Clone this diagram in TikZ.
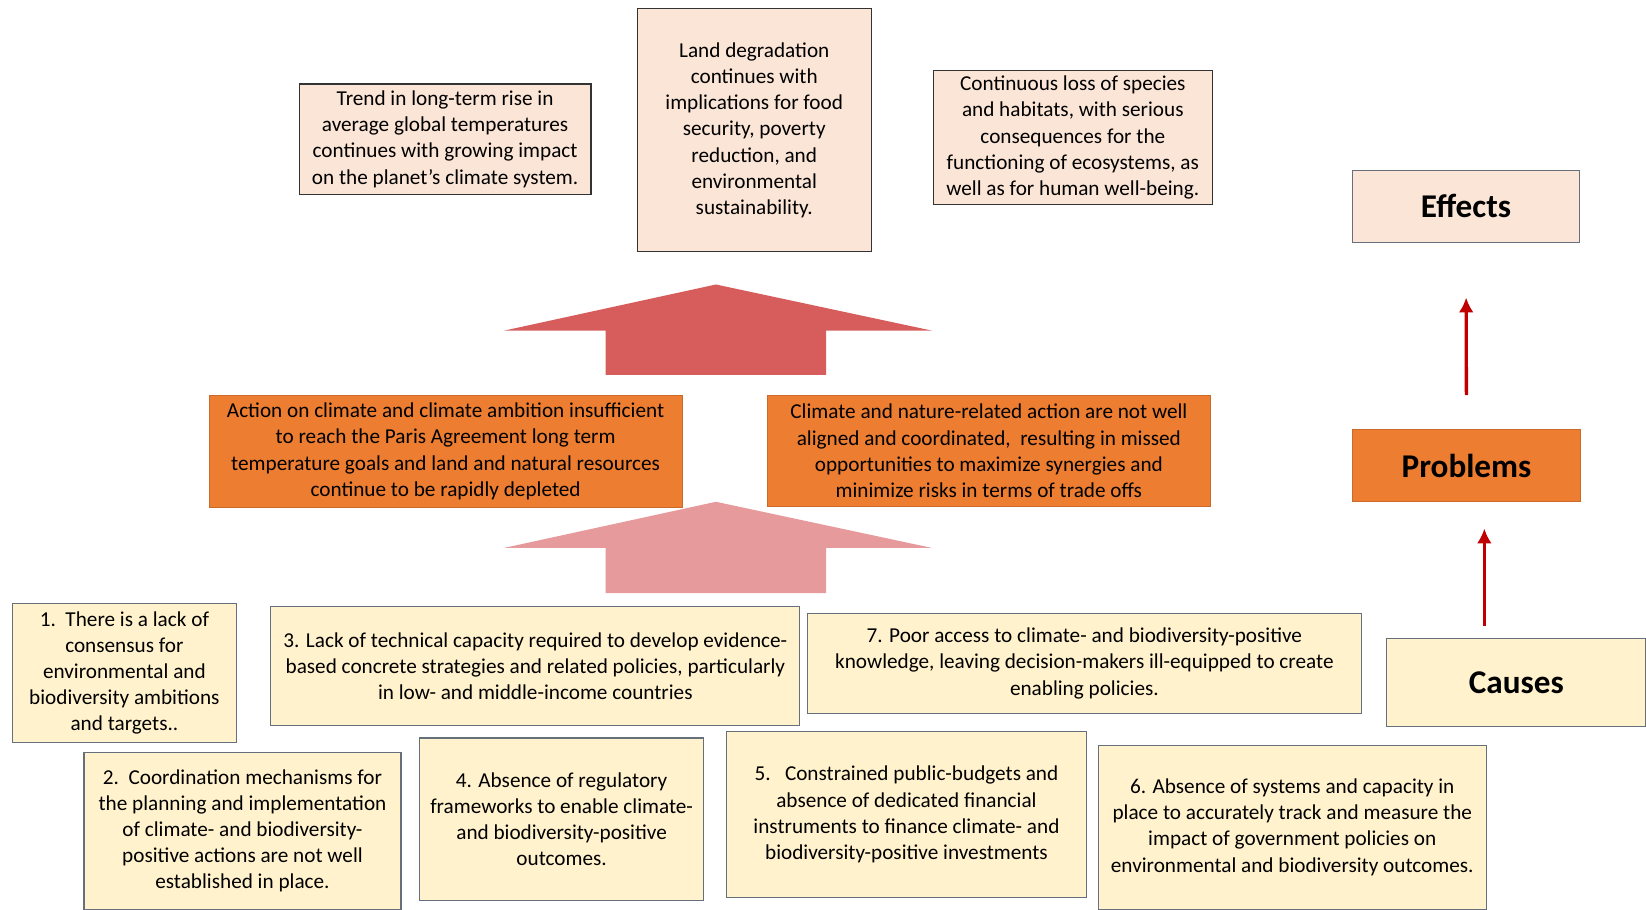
\documentclass[tikz,border=0pt]{standalone}
\usepackage{fontspec}
\setmainfont{Carlito}
\usetikzlibrary{arrows.meta}

\definecolor{effectfill}{HTML}{FBE5D6}
\definecolor{causefill}{HTML}{FFF2CC}
\definecolor{problemfill}{HTML}{ED7D31}
\definecolor{bigarrowdark}{HTML}{D75D5D}
\definecolor{bigarrowlight}{HTML}{E69A9C}
\definecolor{arrowred}{HTML}{C00000}
\definecolor{boxline}{HTML}{66707C}

\tikzset{
  effectbox/.style={draw=black!80, fill=effectfill, line width=0.6pt, align=center, inner sep=2pt,
    font=\fontsize{11.5}{14.2}\selectfont},
  causebox/.style={draw=boxline, fill=causefill, line width=0.6pt, align=center, inner sep=2pt,
    font=\fontsize{11.5}{14.2}\selectfont},
  problembox/.style={draw=problemfill!85!black, fill=problemfill, line width=0.4pt, align=center, inner sep=2pt,
    font=\fontsize{11.5}{14.2}\selectfont},
  headbox/.style={draw=boxline, line width=0.6pt, font=\fontsize{18}{22}\selectfont\bfseries},
  redarrow/.style={draw=arrowred, line width=1.8pt, -{Latex[length=8pt,width=8pt]}},
}

\begin{document}
\begin{tikzpicture}[x=0.02cm, y=-0.02cm]
\useasboundingbox (0,0) rectangle (1568,866);

% effects
\node[effectbox, minimum width=5.56cm, minimum height=2.1cm] (trend) at (424,132.5)
  {Trend in long-term rise in\\average global temperatures\\continues with growing impact\\on the planet's climate system.};
\node[effectbox, minimum width=4.46cm, minimum height=4.64cm] (land) at (718.5,124)
  {Land degradation\\continues with\\implications for food\\security, poverty\\reduction, and\\environmental\\sustainability.};
\node[effectbox, minimum width=5.32cm, minimum height=2.56cm] (species) at (1022,131)
  {Continuous loss of species\\and habitats, with serious\\consequences for the\\functioning of ecosystems, as\\well as for human well-being.};

% block arrows
\fill[bigarrowdark] (682,271) -- (888,315) -- (787,315) -- (787,357) -- (577,357) -- (577,315) -- (480,315) -- cycle;
\fill[bigarrowlight] (682,478) -- (888,522) -- (787,522) -- (787,565) -- (577,565) -- (577,522) -- (480,522) -- cycle;

% problems
\node[problembox, minimum width=9.02cm, minimum height=2.12cm] (ambition) at (424.5,430)
  {Action on climate and climate ambition insufficient\\to reach the Paris Agreement long term\\temperature goals and land and natural resources\\continue to be rapidly depleted};
\node[problembox, minimum width=8.44cm, minimum height=2.1cm] (aligned) at (942,429.5)
  {Climate and nature-related action are not well\\aligned and coordinated,\ \ resulting in missed\\opportunities to maximize synergies and\\minimize risks in terms of trade offs};

% causes
\node[causebox, minimum width=4.26cm, minimum height=2.64cm] (c1) at (118.5,641)
  {1.\ \ There is a lack of\\consensus for\\environmental and\\biodiversity ambitions\\and targets..};
\node[causebox, minimum width=10.08cm, minimum height=2.26cm] (c3) at (510,634.5)
  {3. Lack of technical capacity required to develop evidence-\\based concrete strategies and related policies, particularly\\in low- and middle-income countries};
\node[causebox, minimum width=10.56cm, minimum height=1.92cm] (c7) at (1033,632)
  {7. Poor access to climate- and biodiversity-positive\\knowledge, leaving decision-makers ill-equipped to create\\enabling policies.};
\node[causebox, minimum width=6.04cm, minimum height=2.98cm] (c2) at (231,791.5)
  {2.\ \ Coordination mechanisms for\\the planning and implementation\\of climate- and biodiversity-\\positive actions are not well\\established in place.};
\node[causebox, minimum width=5.4cm, minimum height=3.1cm] (c4) at (535,780.5)
  {4. Absence of regulatory\\frameworks to enable climate-\\and biodiversity-positive\\outcomes.};
\node[causebox, minimum width=6.86cm, minimum height=3.16cm] (c5) at (863.5,776)
  {5.\ \ \ Constrained public-budgets and\\absence of dedicated financial\\instruments to finance climate- and\\biodiversity-positive investments};
\node[causebox, minimum width=7.4cm, minimum height=3.12cm] (c6) at (1231,788)
  {6. Absence of systems and capacity in\\place to accurately track and measure the\\impact of government policies on\\environmental and biodiversity outcomes.};

% legend
\node[headbox, fill=effectfill, minimum width=4.34cm, minimum height=1.38cm] (effects) at (1396.5,196.5) {Effects};
\node[headbox, fill=problemfill, draw=problemfill!85!black, minimum width=4.36cm, minimum height=1.38cm] (problems) at (1397,443.5) {Problems};
\node[headbox, fill=causefill, minimum width=4.94cm, minimum height=1.68cm] (causes) at (1444.5,650) {Causes};

\draw[redarrow, shorten <=0.64cm, shorten >=1.04cm] (problems.north) -- (effects.south);
\draw[redarrow, shorten <=0.22cm, shorten >=0.5cm] ([xshift=-0.61cm]causes.north) -- ([xshift=-0.61cm]causes.north |- problems.south);
\end{tikzpicture}
\end{document}
